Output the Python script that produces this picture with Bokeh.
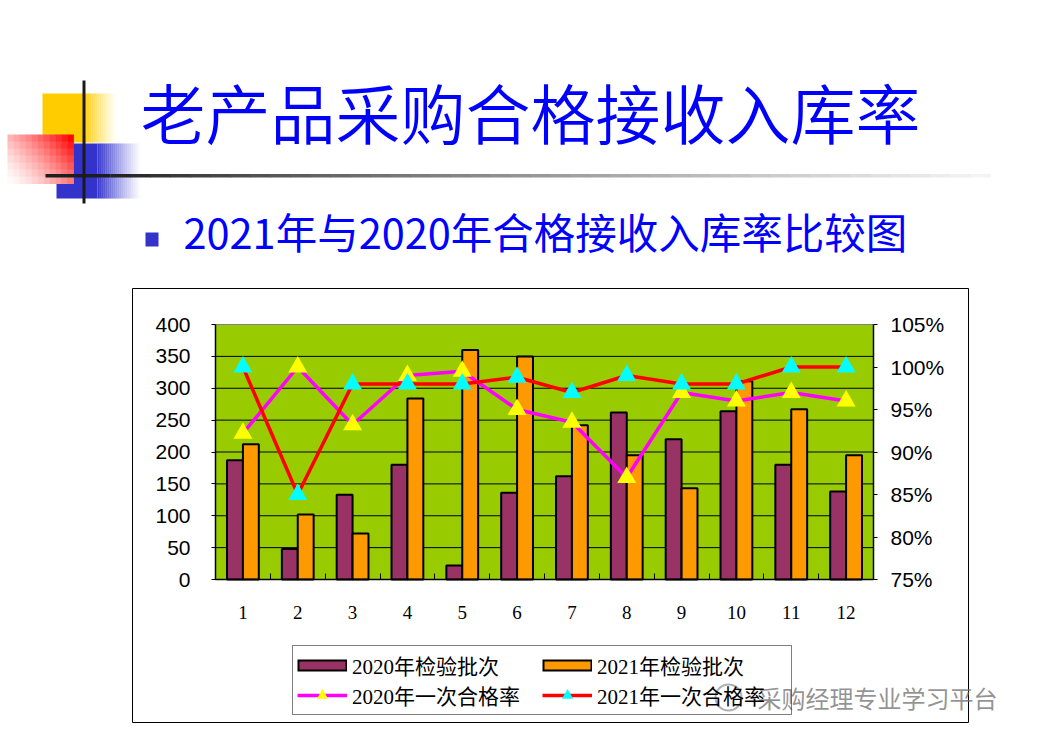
from bokeh.plotting import figure
from bokeh.models import (Range1d, LinearAxis, FixedTicker, NumeralTickFormatter,
                          Label, Legend, LegendItem, ColumnDataSource)
from bokeh.transform import dodge
from bokeh.embed import file_html
from bokeh.resources import INLINE

# ---------------- data ----------------
months = [1, 2, 3, 4, 5, 6, 7, 8, 9, 10, 11, 12]
batches_2020 = [187, 48, 133, 180, 22, 136, 162, 262, 220, 264, 180, 138]
batches_2021 = [212, 102, 72, 284, 360, 350, 242, 195, 143, 311, 267, 195]
pass_rate_2020 = [0.922, 1.000, 0.932, 0.990, 0.995, 0.950, 0.935, 0.870, 0.970, 0.960, 0.970, 0.960]
pass_rate_2021 = [1.000, 0.850, 0.980, 0.980, 0.980, 0.988, 0.970, 0.990, 0.980, 0.980, 1.000, 1.000]
count_ticks = [0, 50, 100, 150, 200, 250, 300, 350, 400]
rate_ticks = [0.75, 0.80, 0.85, 0.90, 0.95, 1.00, 1.05]
series_names = ["2020年检验批次", "2021年检验批次", "2020年一次合格率", "2021年一次合格率"]
title_text = "老产品采购合格接收入库率"
subtitle_text = "2021年与2020年合格接收入库率比较图"
watermark_text = "采购经理专业学习平台"

# ---------------- layout ----------------
W, H = 1026, 726
PL, PR, PT, PB = 215, 873, 324, 579          # plot area on the page (px)
X0, X1 = 0.5, 12.5                            # category range
C0, C1 = 0, 400                               # count range
R0, R1 = 0.75, 1.05                           # rate range
xpx = (PR - PL) / (X1 - X0)
cpx = (PB - PT) / (C1 - C0)
rpx = (PB - PT) / (R1 - R0)

PURPLE, ORANGE = "#993366", "#FF9900"
MAGENTA, RED = "#FF00FF", "#FF0000"
YELLOW, CYAN = "#FFFF00", "#00FFFF"


def blend(rgb, a):
    r, g, b = rgb
    return "#%02x%02x%02x" % (round(255 + (r - 255) * a), round(255 + (g - 255) * a), round(255 + (b - 255) * a))


p = figure(width=W, height=H, min_border=0,
           x_range=Range1d(X0 - PL / xpx, X0 + (W - PL) / xpx),
           y_range=Range1d(C0 - (H - PB) / cpx, C0 + PB / cpx),
           x_axis_location=None, y_axis_location=None,
           output_backend="svg", toolbar_location=None,
           background_fill_color="white", border_fill_color="white",
           outline_line_color=None)
p.xgrid.visible = False
p.ygrid.visible = False
p.extra_y_ranges = {"rate": Range1d(R0 - (H - PB) / rpx, R0 + PB / rpx),
                    "py": Range1d(H, 0)}
p.extra_x_ranges = {"px": Range1d(0, W)}

# ---------------- slide decoration (page pixel space) ----------------
dl, dr, dt, db, dc = [], [], [], [], []


def deco(l, t, r, b, c):
    dl.append(l); dr.append(r); dt.append(t); db.append(b); dc.append(c)


deco(42, 93, 83, 142, "#FFCC00")
for i in range(17):
    x = 83 + i * 2
    deco(x, 93, x + 2.3, 142, blend((255, 204, 0), (1 - (i + 0.5) / 17) ** 1.2))
deco(56, 143, 97, 198, "#3333CC")
for i in range(22):
    x = 97 + i * 2
    deco(x, 143, x + 2.3, 198, blend((51, 51, 204), (1 - (i + 0.5) / 22) ** 1.2))
RX0, RX1, RY0, RY1 = 7, 73, 134, 183
NX, NY = 11, 7
cw, ch = (RX1 - RX0) / NX, (RY1 - RY0) / NY
for ix in range(NX):
    for iy in range(NY):
        u = (ix + 0.5) / NX
        v = 1 - (iy + 0.5) / NY
        a = min(1.0, max(0.0, 0.62 * u + 0.42 * v)) ** 1.4
        deco(RX0 + ix * cw, RY0 + iy * ch, RX0 + (ix + 1) * cw + 0.4, RY0 + (iy + 1) * ch + 0.4,
             blend((255, 0, 0), a))
deco(45, 173.5, 110, 177, "#1e1e1e")
NSEG = 44
for i in range(NSEG):
    x = 110 + i * 20
    g = round(0x1e + (0xf6 - 0x1e) * ((i + 0.5) / NSEG) ** 0.8)
    deco(x, 173.5, x + 20.6, 177, "#%02x%02x%02x" % (g, g, g))
deco(82, 80, 85, 203, "#1a1a1a")
deco(145, 232, 158, 246, "#3333CC")
p.quad(left=dl, right=dr, top=dt, bottom=db, fill_color=dc, line_color=None,
       x_range_name="px", y_range_name="py")

# chart outer box
p.quad(left=[132], right=[968], top=[288], bottom=[722], fill_color=None,
       line_color="black", line_width=1, x_range_name="px", y_range_name="py")

# watermark icon (sits under the legend text)
p.scatter(x=[728], y=[697], marker="circle", size=26, fill_color="white", fill_alpha=0.0,
          line_color="#b0b0b0", line_width=2, x_range_name="px", y_range_name="py")

# plot area background + grid
p.quad(left=[X0], right=[X1], bottom=[C0], top=[C1], fill_color="#99CC00",
       line_color="#808080", line_width=1)
p.segment(x0=[X0] * (len(count_ticks) - 2), x1=[X1] * (len(count_ticks) - 2),
          y0=count_ticks[1:-1], y1=count_ticks[1:-1], line_color="black", line_width=1)

src = ColumnDataSource(dict(x=months, b20=batches_2020, b21=batches_2021,
                            r20=pass_rate_2020, r21=pass_rate_2021))

bar20 = p.vbar(x=dodge("x", -0.145, range=p.x_range), top="b20", width=0.29, bottom=0,
               fill_color=PURPLE, line_color="black", line_width=2, source=src)
bar21 = p.vbar(x=dodge("x", 0.145, range=p.x_range), top="b21", width=0.29, bottom=0,
               fill_color=ORANGE, line_color="black", line_width=2, source=src)

ln20 = p.line("x", "r20", y_range_name="rate", line_color=MAGENTA, line_width=3.5, source=src)
mk20 = p.scatter("x", "r20", y_range_name="rate", marker="triangle", size=19,
                 fill_color=YELLOW, line_color=None, source=src)
ln21 = p.line("x", "r21", y_range_name="rate", line_color=RED, line_width=3.5, source=src)
mk21 = p.scatter("x", "r21", y_range_name="rate", marker="triangle", size=19,
                 fill_color=CYAN, line_color=None, source=src)

# legend swatches for the bar series: flat outlined bars (single off-canvas point, draws nothing)
GW = 50
OFF = dict(x=[-500], y=[-500], x_range_name="px", y_range_name="py")
sw20 = [p.line(line_color="black", line_width=12, **OFF),
        p.line(line_color=PURPLE, line_width=8, line_dash="0 2 %d 1000" % (GW - 4), **OFF)]
sw21 = [p.line(line_color="black", line_width=12, **OFF),
        p.line(line_color=ORANGE, line_width=8, line_dash="0 2 %d 1000" % (GW - 4), **OFF)]

# ---------------- axes (pinned to the plot area) ----------------
xax = LinearAxis(fixed_location=C0, bounds=(X0, X1),
                 ticker=FixedTicker(ticks=months, minor_ticks=[m + 0.5 for m in [0] + months]))
xax.major_tick_in = 0
xax.major_tick_out = 0
xax.minor_tick_in = 6
xax.minor_tick_out = 0
xax.minor_tick_line_color = "black"
xax.axis_line_color = "black"
xax.axis_line_width = 1.5
xax.major_label_text_font = "Liberation Serif"
xax.major_label_text_font_size = "19px"
xax.major_label_text_color = "black"
xax.major_label_standoff = 26
p.add_layout(xax, "below")

yax = LinearAxis(fixed_location=X0, bounds=(C0, C1), ticker=FixedTicker(ticks=count_ticks))
yax.minor_tick_line_color = None
yax.major_tick_in = 0
yax.major_tick_out = 4
yax.axis_line_color = "black"
yax.axis_line_width = 1.5
yax.major_label_text_font = "Liberation Sans"
yax.major_label_text_font_size = "21px"
yax.major_label_text_color = "black"
yax.major_label_standoff = 21
p.add_layout(yax, "left")

rax = LinearAxis(fixed_location=X1, y_range_name="rate", bounds=(R0, R1),
                 ticker=FixedTicker(ticks=rate_ticks), formatter=NumeralTickFormatter(format="0%"))
rax.minor_tick_line_color = None
rax.major_tick_in = 0
rax.major_tick_out = 4
rax.axis_line_color = "black"
rax.axis_line_width = 1.5
rax.major_label_text_font = "Liberation Sans"
rax.major_label_text_font_size = "21px"
rax.major_label_text_color = "black"
rax.major_label_standoff = 13
p.add_layout(rax, "right")

# ---------------- titles ----------------
p.add_layout(Label(x=140, y=H - 110, x_units="screen", y_units="screen",
                   text=title_text, text_font="'Noto Sans CJK SC DemiLight', 'Noto Sans CJK SC'",
                   text_font_size="65px", text_color="#0000FF",
                   text_align="left", text_baseline="middle"))
p.add_layout(Label(x=183, y=H - 230, x_units="screen", y_units="screen",
                   text=subtitle_text, text_font="'Noto Sans CJK SC'",
                   text_font_size="41.5px", text_color="#0000FF",
                   text_align="left", text_baseline="middle"))

# watermark text (drawn before the legend so it shows through the legend's clear background)
p.add_layout(Label(x=757, y=H - 697, x_units="screen", y_units="screen",
                   text=watermark_text, text_font="'Noto Sans CJK SC'",
                   text_font_size="24px", text_color="#707070", text_alpha=0.75,
                   text_align="left", text_baseline="middle"))

# ---------------- legend ----------------
legend = Legend(items=[LegendItem(label=series_names[0], renderers=sw20),
                       LegendItem(label=series_names[1], renderers=sw21),
                       LegendItem(label=series_names[2], renderers=[ln20, mk20]),
                       LegendItem(label=series_names[3], renderers=[ln21, mk21])],
                location=(292, H - 715), orientation="horizontal", ncols=2,
                glyph_width=GW, glyph_height=28, label_height=28, label_width=190,
                label_standoff=5, spacing=-3, padding=4, margin=0,
                border_line_color="black", border_line_width=1,
                background_fill_color="white", background_fill_alpha=0.0,
                label_text_font="'Liberation Serif', 'Noto Sans CJK SC'",
                label_text_font_size="21px", label_text_color="black")
p.add_layout(legend)

open("out.html", "w").write(file_html(p, INLINE))
